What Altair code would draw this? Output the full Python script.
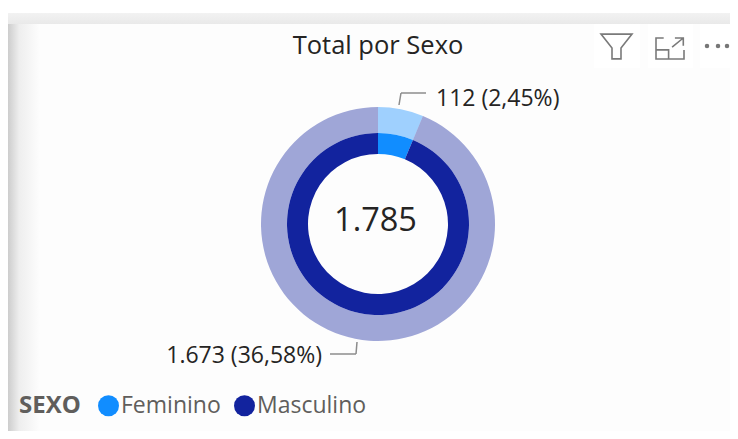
import altair as alt
import pandas as pd

TITLE = "Total por Sexo"
LEGEND_TITLE = "SEXO"
categories = ["Feminino", "Masculino"]
totals = [112, 1673]
colors = ["#118DFF", "#12239E"]
order = [0, 1]
label_112 = "112 (2,45%)"
label_1673 = "1.673 (36,58%)"
center_label = "1.785"

FONT = "Open Sans"
OX, OY = 8, 8
CX, CY = 378 - OX, 224 - OY

df = pd.DataFrame({"sexo": categories, "total": totals, "ord": order})
one = pd.DataFrame({"a": [0]})
base = alt.Chart(one)


def px(x):
    return alt.value(x - OX)


def py(y):
    return alt.value(y - OY)


def rect(x1, x2, y1, y2, fill):
    return base.mark_rect(fill=fill, stroke=None).encode(x=px(x1), x2=px(x2), y=py(y1), y2=py(y2))


def rule(x1, y1, x2, y2):
    return base.mark_rule(color="#8c8c8c", strokeWidth=1.5).encode(x=px(x1), x2=px(x2), y=py(y1), y2=py(y2))


def text(s, x, y, size, align="center", color="#252423", weight="normal"):
    return base.mark_text(text=s, font=FONT, fontSize=size, align=align, baseline="middle",
                          color=color, fontWeight=weight).encode(x=px(x), y=py(y))


def icon(path, x, y, size, width=1.6):
    return base.mark_point(shape=path, size=size, filled=False, stroke="#7a7a7a", strokeWidth=width, opacity=1).encode(x=px(x), y=py(y))


legend = alt.Legend(orient="none", legendX=11, legendY=386, direction="horizontal",
                    title=LEGEND_TITLE, titleOrient="left", titleFont=FONT, titleFontSize=24,
                    titleFontWeight="bold", titleColor="#605E5C", labelFont=FONT, labelFontSize=23,
                    labelColor="#605E5C", symbolType="circle", symbolSize=441, symbolStrokeWidth=0,
                    columnPadding=12, labelOffset=1, titlePadding=16, symbolOpacity=1)
color_enc = alt.Color("sexo:N", scale=alt.Scale(domain=categories, range=colors), legend=legend)
theta_enc = alt.Theta("total:Q", stack=True)
ord_enc = alt.Order("ord:Q")

outer = alt.Chart(df).mark_arc(radius=117, radius2=91, opacity=0.4).encode(
    theta=theta_enc, color=color_enc, order=ord_enc, x=alt.value(CX), y=alt.value(CY))
inner = alt.Chart(df).mark_arc(radius=91, radius2=70, opacity=1).encode(
    theta=theta_enc, color=color_enc, order=ord_enc, x=alt.value(CX), y=alt.value(CY))

funnel = "M-1,-0.8 L1,-0.8 L0.29,0.1 L0.29,0.8 L-0.29,0.8 L-0.29,0.1 Z"
expand = ("M-0.45,-0.75 L-1,-0.75 L-1,0.75 L1,0.75 L1,0.1 M-1,0.1 L-0.1,0.1 L-0.1,0.75 "
          "M0.15,-0.1 L0.95,-0.75 M0.35,-0.75 L0.95,-0.75 L0.95,-0.2")

shadow = alt.Gradient(gradient="linear", x1=0, x2=1, y1=0, y2=0,
                      stops=[alt.GradientStop(color="#cdcdcd", offset=0),
                             alt.GradientStop(color="#eeeeee", offset=0.35),
                             alt.GradientStop(color="#fdfdfd", offset=1)])
band = alt.Gradient(gradient="linear", x1=0, x2=0, y1=0, y2=1,
                    stops=[alt.GradientStop(color="#f2f2f2", offset=0),
                           alt.GradientStop(color="#e9e9e9", offset=1)])

chart = alt.layer(
    rect(8, 730, 24, 431, "#fdfdfd"),
    rect(8, 730, 13, 24, band),
    rect(8, 40, 24, 431, shadow),
    rect(594, 640, 24, 68, "#ffffff"),
    rect(648, 693, 24, 68, "#ffffff"),
    rect(700, 730, 24, 68, "#ffffff"),
    outer,
    inner,
    rule(399, 105, 401, 93),
    rule(401, 93, 426, 93),
    rule(357, 342, 356, 354),
    rule(356, 354, 330, 354),
    text(TITLE, 378, 46, 25.5),
    text(label_112, 436, 98.5, 23, align="left"),
    text(label_1673, 322, 356, 23, align="right"),
    text(center_label, 375.5, 221, 32.5),
    icon(funnel, 616.5, 46.5, 961),
    icon(expand, 670, 48.5, 784),
    base.mark_circle(size=20, color="#777777", opacity=1).encode(x=px(707), y=py(46)),
    base.mark_circle(size=20, color="#777777", opacity=1).encode(x=px(718), y=py(46)),
    base.mark_circle(size=20, color="#777777", opacity=1).encode(x=px(727), y=py(46)),
).resolve_scale(theta="shared", color="shared").properties(
    width=722, height=423, padding=0, autosize=alt.AutoSizeParams(type="none")
).configure_view(stroke=None)

chart.save("out.html", embed_options={"renderer": "svg", "actions": False})
